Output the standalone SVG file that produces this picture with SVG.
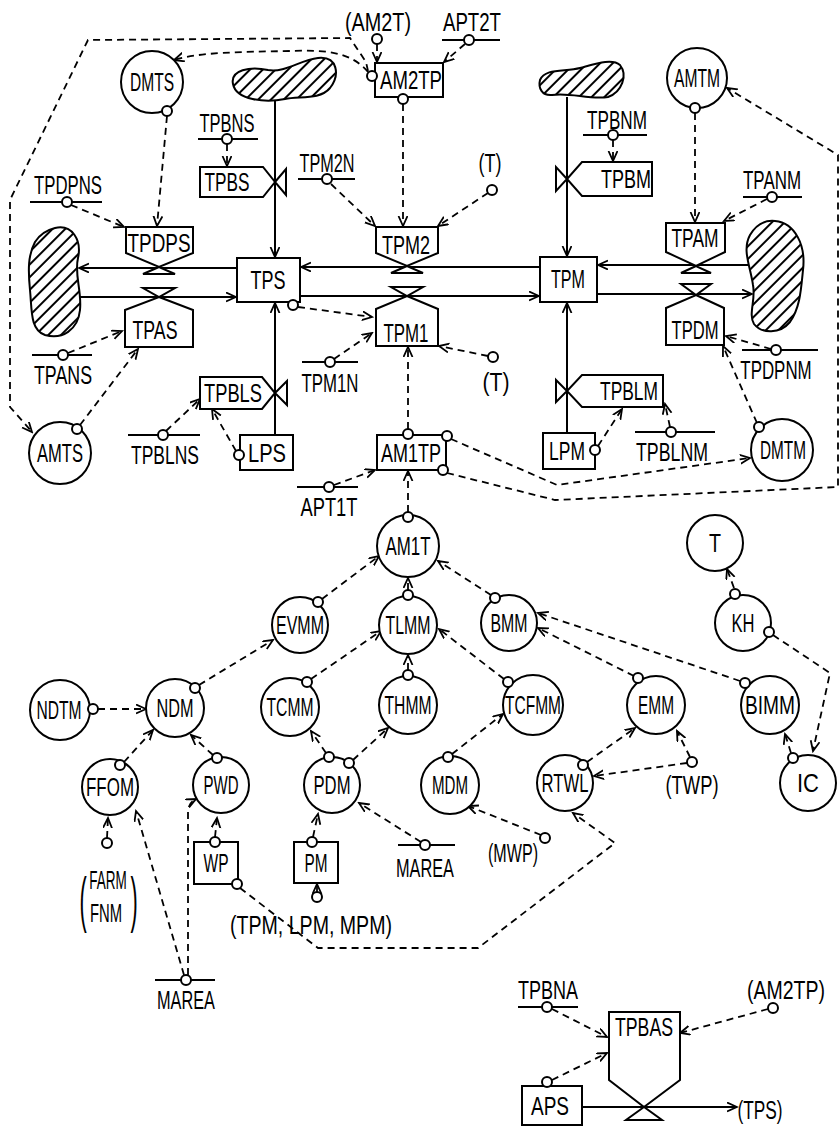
<svg xmlns="http://www.w3.org/2000/svg" width="840" height="1128" viewBox="0 0 840 1128">
<style>
.t{font-family:"Liberation Sans",Arial,sans-serif;font-size:26px;text-anchor:middle;fill:#000}
.n{fill:#fff;stroke:#000;stroke-width:2}
.b{fill:#fff;stroke:#000;stroke-width:2}
.s{fill:#fff;stroke:#000;stroke-width:2}
.k{stroke:#000;stroke-width:1.8;fill:none}
.f{stroke:#000;stroke-width:2;fill:none;marker-end:url(#a)}
.d{stroke:#000;stroke-width:1.8;fill:none;stroke-dasharray:7 5;marker-end:url(#a)}
.c{fill:url(#h);stroke:#000;stroke-width:2}
</style>
<defs>
<marker id="a" markerUnits="userSpaceOnUse" markerWidth="12" markerHeight="12" refX="10" refY="5" orient="auto">
<path d="M0,0.5 L10,5 L0,9.5" fill="none" stroke="#000" stroke-width="1.8" stroke-dasharray="none"/>
</marker>
<pattern id="h" patternUnits="userSpaceOnUse" width="9" height="9" patternTransform="rotate(45)">
<rect width="9" height="9" fill="#fff"/>
<line x1="1" y1="0" x2="1" y2="9" stroke="#000" stroke-width="2"/>
</pattern>
</defs>
<rect width="840" height="1128" fill="#fff"/>

<g id="connectors">
<!-- flows -->
<path class="f" d="M275,100 L275,257"/>
<path class="f" d="M275,435 L275,303"/>
<path class="f" d="M237,268 L79,268"/>
<path class="f" d="M80,297 L236,297"/>
<path class="f" d="M540,267 L301,267"/>
<path class="f" d="M300,296 L539,296"/>
<path class="f" d="M753,265 L598,265"/>
<path class="f" d="M597,294 L752,294"/>
<path class="f" d="M567,97 L567,256"/>
<path class="f" d="M567,433 L567,303"/>
<path class="f" d="M582,1107 L737,1107"/>
<!-- information links -->
<path class="d" d="M167,116 L157,226"/>
<path class="d" d="M71,205 L124,227"/>
<path class="d" d="M227,144 L227,166"/>
<path class="d" d="M377,44 L377,62"/>
<path class="d" d="M465,44 L444,62"/>
<path class="d" d="M403,104 L403,226"/>
<path class="d" d="M331,184 L375,226"/>
<path class="d" d="M488,193 L438,226"/>
<path class="d" d="M368,72 C350,50 320,50 290,51 C240,52 200,52 174,60"/>
<path class="d" d="M368,71 L366,62 L350,38 L88,40 L10,200 L10,407 L32,432"/>
<path class="d" d="M613,140 L613,161"/>
<path class="d" d="M695,113 L695,222"/>
<path class="d" d="M767,199 L724,221"/>
<path class="d" d="M68,353 L122,331"/>
<path class="d" d="M80,425 L138,349"/>
<path class="d" d="M166,431 L200,399"/>
<path class="d" d="M236,451 L212,409"/>
<path class="d" d="M298,307 L372,317"/>
<path class="d" d="M334,359 L372,333"/>
<path class="d" d="M488,356 L439,346"/>
<path class="d" d="M408,429 L408,347"/>
<path class="d" d="M334,485 L375,470"/>
<path class="d" d="M451,439 L557,485 L750,458"/>
<path class="d" d="M447,473 L555,500 L838,487 L838,155 L727,88"/>
<path class="d" d="M771,349 L726,336"/>
<path class="d" d="M757,423 L723,346"/>
<path class="d" d="M598,446 L622,409"/>
<path class="d" d="M670,427 L665,404"/>
<path class="d" d="M408,512 L408,471"/>
<path class="d" d="M322,599 L379,556"/>
<path class="d" d="M408,590 L408,578"/>
<path class="d" d="M491,595 L438,561"/>
<path class="d" d="M311,679 L381,631"/>
<path class="d" d="M408,670 L408,655"/>
<path class="d" d="M504,679 L439,629"/>
<path class="d" d="M634,676 L538,628"/>
<path class="d" d="M740,681 L538,613"/>
<path class="d" d="M199,685 L273,640"/>
<path class="d" d="M98,709 L146,709"/>
<path class="d" d="M124,762 L153,730"/>
<path class="d" d="M213,755 L191,735"/>
<path class="d" d="M326,753 L311,731"/>
<path class="d" d="M353,760 L388,728"/>
<path class="d" d="M452,754 L503,714"/>
<path class="d" d="M587,762 L635,728"/>
<path class="d" d="M687,763 L594,776"/>
<path class="d" d="M690,757 L677,731"/>
<path class="d" d="M734,588 L727,569"/>
<path class="d" d="M773,635 L830,673 L813,751"/>
<path class="d" d="M791,753 L785,734"/>
<path class="d" d="M107,838 L108,818"/>
<path class="d" d="M184,975 L136,811"/>
<path class="d" d="M188,975 L188,812 C188,805 192,801 196,799"/>
<path class="d" d="M215,837 L217,818"/>
<path class="d" d="M240,888 L318,948 L478,948 L615,843 L573,813"/>
<path class="d" d="M313,837 L318,814"/>
<path class="d" d="M421,842 L359,803"/>
<path class="d" d="M541,835 L468,806"/>
<path class="d" d="M317,892 L317,884"/>
<path class="d" d="M552,1009 L607,1037"/>
<path class="d" d="M768,1009 L680,1033"/>
<path class="d" d="M552,1080 L607,1053"/>
</g>

<g id="cloud-ts"><path class="c" d="M233,84 C230,70 250,66 268,70 C285,73 300,60 318,58 C338,56 340,75 330,88 C320,100 300,96 285,99 C265,103 236,100 233,84 Z"/></g>
<g id="cloud-tm"><path class="c" d="M540,80 C545,68 565,72 580,68 C595,64 612,58 620,65 C628,75 622,92 608,97 C590,100 570,92 552,95 C542,96 538,88 540,80 Z"/></g>
<g id="cloud-left"><path class="c" d="M55,228 C72,224 82,240 78,258 C74,275 82,290 80,310 C78,330 62,340 45,335 C30,330 32,310 30,290 C28,270 28,255 35,242 C40,234 47,230 55,228 Z"/></g>
<g id="cloud-right"><path class="c" d="M775,221 C795,223 806,245 803,270 C801,290 800,308 790,322 C780,334 762,334 754,324 C748,314 756,300 753,285 C750,265 742,250 750,235 C756,225 765,220 775,221 Z"/></g>

<g id="TPS"><rect class="b" x="237" y="258" width="63" height="44"/><text class="t" x="268" y="289" textLength="35" lengthAdjust="spacingAndGlyphs">TPS</text><circle class="s" cx="293" cy="305" r="5"/></g>
<g id="TPM"><rect class="b" x="540" y="257" width="57" height="45"/><text class="t" x="568" y="288" textLength="34" lengthAdjust="spacingAndGlyphs">TPM</text></g>

<g id="TPDPS"><polygon class="b" points="126,227 193,227 193,253 159,267 126,253"/><polygon class="b" points="159,267 143,274 175,274"/><text class="t" x="159" y="252" textLength="63" lengthAdjust="spacingAndGlyphs">TPDPS</text></g>
<g id="TPAS"><polygon class="b" points="143,288 175,288 159,297"/><polygon class="b" points="159,297 193,310 193,347 125,347 125,310"/><text class="t" x="155" y="339" textLength="45" lengthAdjust="spacingAndGlyphs">TPAS</text></g>
<g id="TPM2"><polygon class="b" points="376,227 438,227 438,253 407,266 376,253"/><polygon class="b" points="407,266 391,273 423,273"/><text class="t" x="406" y="254" textLength="48" lengthAdjust="spacingAndGlyphs">TPM2</text></g>
<g id="TPM1"><polygon class="b" points="391,287 423,287 407,296"/><polygon class="b" points="407,296 438,309 438,346 376,346 376,309"/><text class="t" x="406" y="342" textLength="45" lengthAdjust="spacingAndGlyphs">TPM1</text></g>
<g id="TPAM"><polygon class="b" points="666,223 725,223 725,252 696,266 666,252"/><polygon class="b" points="696,266 681,273 711,273"/><text class="t" x="695" y="247" textLength="47" lengthAdjust="spacingAndGlyphs">TPAM</text></g>
<g id="TPDM"><polygon class="b" points="681,284 711,284 696,295"/><polygon class="b" points="696,295 724,308 724,345 666,345 666,308"/><text class="t" x="695" y="339" textLength="47" lengthAdjust="spacingAndGlyphs">TPDM</text></g>

<g id="TPBS"><polygon class="b" points="200,167 263,167 275,182 263,197 200,197"/><polygon class="b" points="275,182 286,169 286,195"/><text class="t" x="227" y="191" textLength="45" lengthAdjust="spacingAndGlyphs">TPBS</text></g>
<g id="TPBM"><polygon class="b" points="652,162 582,162 567,179 582,196 652,196"/><polygon class="b" points="567,179 556,167 556,191"/><text class="t" x="626" y="188" textLength="50" lengthAdjust="spacingAndGlyphs">TPBM</text></g>
<g id="TPBLS"><polygon class="b" points="200,377 262,377 275,393 262,409 200,409"/><polygon class="b" points="275,393 287,381 287,405"/><text class="t" x="233" y="402" textLength="58" lengthAdjust="spacingAndGlyphs">TPBLS</text></g>
<g id="TPBLM"><polygon class="b" points="663,375 582,375 567,391 582,407 663,407"/><polygon class="b" points="567,391 556,380 556,402"/><text class="t" x="629" y="400" textLength="58" lengthAdjust="spacingAndGlyphs">TPBLM</text></g>

<g id="LPS"><rect class="b" x="240" y="435" width="53" height="35"/><text class="t" x="267" y="462" textLength="38" lengthAdjust="spacingAndGlyphs">LPS</text><circle class="s" cx="239" cy="455" r="5"/></g>
<g id="LPM"><rect class="b" x="543" y="433" width="52" height="36"/><text class="t" x="567" y="460" textLength="36" lengthAdjust="spacingAndGlyphs">LPM</text><circle class="s" cx="595" cy="450" r="5"/></g>

<g id="AM2TP"><rect class="b" x="375" y="63" width="68" height="34"/><text class="t" x="411" y="89" textLength="62" lengthAdjust="spacingAndGlyphs">AM2TP</text><circle class="s" cx="372" cy="76" r="5"/><circle class="s" cx="403" cy="99" r="5"/></g>
<g id="AM1TP"><rect class="b" x="377" y="435" width="69" height="35"/><text class="t" x="411" y="462" textLength="60" lengthAdjust="spacingAndGlyphs">AM1TP</text><circle class="s" cx="408" cy="434" r="5"/><circle class="s" cx="447" cy="436" r="5"/><circle class="s" cx="443" cy="470" r="5"/></g>

<g id="DMTS"><circle class="n" cx="152" cy="82" r="31"/><text class="t" x="152" y="91" textLength="44" lengthAdjust="spacingAndGlyphs">DMTS</text><circle class="s" cx="167" cy="111" r="5"/></g>
<g id="AMTM"><circle class="n" cx="697" cy="78" r="30"/><text class="t" x="697" y="87" textLength="46" lengthAdjust="spacingAndGlyphs">AMTM</text><circle class="s" cx="695" cy="108" r="5"/></g>
<g id="AMTS"><circle class="n" cx="60" cy="453" r="31"/><text class="t" x="60" y="462" textLength="46" lengthAdjust="spacingAndGlyphs">AMTS</text><circle class="s" cx="77" cy="429" r="5"/></g>
<g id="DMTM"><circle class="n" cx="782" cy="450" r="31"/><text class="t" x="783" y="459" textLength="46" lengthAdjust="spacingAndGlyphs">DMTM</text><circle class="s" cx="759" cy="427" r="5"/></g>

<g id="AM1T"><circle class="n" cx="408" cy="546" r="31"/><text class="t" x="408" y="555" textLength="45" lengthAdjust="spacingAndGlyphs">AM1T</text><circle class="s" cx="408" cy="517" r="5"/></g>
<g id="EVMM"><circle class="n" cx="300" cy="625" r="28"/><text class="t" x="300" y="634" textLength="48" lengthAdjust="spacingAndGlyphs">EVMM</text><circle class="s" cx="318" cy="602" r="5"/></g>
<g id="TLMM"><circle class="n" cx="408" cy="625" r="29"/><text class="t" x="408" y="634" textLength="45" lengthAdjust="spacingAndGlyphs">TLMM</text><circle class="s" cx="408" cy="595" r="5"/></g>
<g id="BMM"><circle class="n" cx="509" cy="623" r="28"/><text class="t" x="509" y="632" textLength="37" lengthAdjust="spacingAndGlyphs">BMM</text><circle class="s" cx="495" cy="598" r="5"/></g>
<g id="T"><circle class="n" cx="715" cy="543" r="28"/><text class="t" x="715" y="552" textLength="12" lengthAdjust="spacingAndGlyphs">T</text></g>
<g id="KH"><circle class="n" cx="743" cy="623" r="28"/><text class="t" x="743" y="632" textLength="23" lengthAdjust="spacingAndGlyphs">KH</text><circle class="s" cx="735" cy="594" r="5"/><circle class="s" cx="769" cy="632" r="5"/></g>
<g id="NDTM"><circle class="n" cx="60" cy="710" r="30"/><text class="t" x="59" y="719" textLength="45" lengthAdjust="spacingAndGlyphs">NDTM</text><circle class="s" cx="93" cy="709" r="5"/></g>
<g id="NDM"><circle class="n" cx="175" cy="708" r="29"/><text class="t" x="175" y="717" textLength="37" lengthAdjust="spacingAndGlyphs">NDM</text><circle class="s" cx="195" cy="688" r="5"/></g>
<g id="TCMM"><circle class="n" cx="290" cy="707" r="29"/><text class="t" x="290" y="716" textLength="47" lengthAdjust="spacingAndGlyphs">TCMM</text><circle class="s" cx="307" cy="682" r="5"/></g>
<g id="THMM"><circle class="n" cx="408" cy="705" r="29"/><text class="t" x="408" y="714" textLength="47" lengthAdjust="spacingAndGlyphs">THMM</text><circle class="s" cx="408" cy="675" r="5"/></g>
<g id="TCFMM"><circle class="n" cx="533" cy="705" r="30"/><text class="t" x="533" y="714" textLength="56" lengthAdjust="spacingAndGlyphs">TCFMM</text><circle class="s" cx="508" cy="682" r="5"/></g>
<g id="EMM"><circle class="n" cx="656" cy="705" r="29"/><text class="t" x="656" y="714" textLength="36" lengthAdjust="spacingAndGlyphs">EMM</text><circle class="s" cx="638" cy="678" r="5"/></g>
<g id="BIMM"><circle class="n" cx="770" cy="705" r="29"/><text class="t" x="770" y="714" textLength="50" lengthAdjust="spacingAndGlyphs">BIMM</text><circle class="s" cx="745" cy="683" r="5"/></g>
<g id="FFOM"><circle class="n" cx="110" cy="787" r="28"/><text class="t" x="110" y="796" textLength="48" lengthAdjust="spacingAndGlyphs">FFOM</text><circle class="s" cx="120" cy="765" r="5"/></g>
<g id="PWD"><circle class="n" cx="221" cy="785" r="28"/><text class="t" x="221" y="794" textLength="35" lengthAdjust="spacingAndGlyphs">PWD</text><circle class="s" cx="217" cy="758" r="5"/></g>
<g id="PDM"><circle class="n" cx="332" cy="785" r="28"/><text class="t" x="332" y="794" textLength="37" lengthAdjust="spacingAndGlyphs">PDM</text><circle class="s" cx="329" cy="757" r="5"/><circle class="s" cx="349" cy="763" r="5"/></g>
<g id="MDM"><circle class="n" cx="450" cy="785" r="29"/><text class="t" x="450" y="794" textLength="36" lengthAdjust="spacingAndGlyphs">MDM</text><circle class="s" cx="448" cy="757" r="5"/></g>
<g id="RTWL"><circle class="n" cx="565" cy="783" r="28"/><text class="t" x="565" y="792" textLength="47" lengthAdjust="spacingAndGlyphs">RTWL</text><circle class="s" cx="583" cy="765" r="5"/></g>
<g id="IC"><circle class="n" cx="808" cy="783" r="28"/><text class="t" x="808" y="792" textLength="22" lengthAdjust="spacingAndGlyphs">IC</text><circle class="s" cx="793" cy="758" r="5"/></g>

<g id="WP"><rect class="b" x="194" y="842" width="44" height="42"/><text class="t" x="216" y="872" textLength="25" lengthAdjust="spacingAndGlyphs">WP</text><circle class="s" cx="215" cy="842" r="5"/><circle class="s" cx="237" cy="884" r="5"/></g>
<g id="PM"><rect class="b" x="294" y="842" width="44" height="41"/><text class="t" x="316" y="872" textLength="23" lengthAdjust="spacingAndGlyphs">PM</text><circle class="s" cx="312" cy="842" r="5"/></g>
<g id="TPBAS"><polygon class="b" points="609,1012 680,1012 680,1080 644,1107 609,1080"/><polygon class="b" points="644,1107 626,1120 662,1120"/><text class="t" x="644" y="1036" textLength="58" lengthAdjust="spacingAndGlyphs">TPBAS</text></g>
<g id="APS"><rect class="b" x="522" y="1086" width="60" height="39"/><text class="t" x="550" y="1115" textLength="38" lengthAdjust="spacingAndGlyphs">APS</text><circle class="s" cx="547" cy="1082" r="5"/></g>

<!-- constants and auxiliary inputs -->
<g id="TPDPNS"><line class="k" x1="30" y1="202" x2="102" y2="202"/><circle class="s" cx="67" cy="202" r="5"/><text class="t" x="68" y="194" textLength="68" lengthAdjust="spacingAndGlyphs">TPDPNS</text></g>
<g id="TPBNS"><line class="k" x1="198" y1="139" x2="258" y2="139"/><circle class="s" cx="227" cy="139" r="5"/><text class="t" x="227" y="132" textLength="55" lengthAdjust="spacingAndGlyphs">TPBNS</text></g>
<g id="AM2T-ref"><circle class="s" cx="377" cy="39" r="5"/><text class="t" x="378" y="31" textLength="66" lengthAdjust="spacingAndGlyphs">(AM2T)</text></g>
<g id="APT2T"><line class="k" x1="442" y1="40" x2="500" y2="40"/><circle class="s" cx="469" cy="40" r="5"/><text class="t" x="472" y="31" textLength="58" lengthAdjust="spacingAndGlyphs">APT2T</text></g>
<g id="TPM2N"><line class="k" x1="298" y1="179" x2="355" y2="179"/><circle class="s" cx="327" cy="179" r="5"/><text class="t" x="327" y="172" textLength="55" lengthAdjust="spacingAndGlyphs">TPM2N</text></g>
<g id="T-ref1"><circle class="s" cx="492" cy="190" r="5"/><text class="t" x="490" y="172" textLength="23" lengthAdjust="spacingAndGlyphs">(T)</text></g>
<g id="TPBNM"><line class="k" x1="583" y1="135" x2="647" y2="135"/><circle class="s" cx="613" cy="135" r="5"/><text class="t" x="617" y="129" textLength="60" lengthAdjust="spacingAndGlyphs">TPBNM</text></g>
<g id="TPANM"><line class="k" x1="743" y1="197" x2="802" y2="197"/><circle class="s" cx="772" cy="197" r="5"/><text class="t" x="772" y="189" textLength="58" lengthAdjust="spacingAndGlyphs">TPANM</text></g>
<g id="TPANS"><line class="k" x1="32" y1="355" x2="92" y2="355"/><circle class="s" cx="63" cy="355" r="5"/><text class="t" x="63" y="384" textLength="58" lengthAdjust="spacingAndGlyphs">TPANS</text></g>
<g id="TPBLNS"><line class="k" x1="128" y1="435" x2="200" y2="435"/><circle class="s" cx="163" cy="435" r="5"/><text class="t" x="165" y="464" textLength="68" lengthAdjust="spacingAndGlyphs">TPBLNS</text></g>
<g id="TPM1N"><line class="k" x1="302" y1="362" x2="358" y2="362"/><circle class="s" cx="330" cy="362" r="5"/><text class="t" x="330" y="392" textLength="57" lengthAdjust="spacingAndGlyphs">TPM1N</text></g>
<g id="T-ref2"><circle class="s" cx="493" cy="357" r="5"/><text class="t" x="496" y="391" textLength="27" lengthAdjust="spacingAndGlyphs">(T)</text></g>
<g id="APT1T"><line class="k" x1="297" y1="487" x2="358" y2="487"/><circle class="s" cx="329" cy="487" r="5"/><text class="t" x="329" y="516" textLength="57" lengthAdjust="spacingAndGlyphs">APT1T</text></g>
<g id="TPDPNM"><line class="k" x1="742" y1="350" x2="818" y2="350"/><circle class="s" cx="776" cy="350" r="5"/><text class="t" transform="translate(776,379) scale(0.65,1)">TPDPNM</text></g>
<g id="TPBLNM"><line class="k" x1="635" y1="432" x2="715" y2="432"/><circle class="s" cx="671" cy="432" r="5"/><text class="t" x="672" y="461" textLength="72" lengthAdjust="spacingAndGlyphs">TPBLNM</text></g>
<g id="TWP"><circle class="s" cx="692" cy="762" r="5"/><text class="t" x="692" y="794" textLength="53" lengthAdjust="spacingAndGlyphs">(TWP)</text></g>
<g id="MAREA-1"><line class="k" x1="398" y1="845" x2="455" y2="845"/><circle class="s" cx="425" cy="845" r="5"/><text class="t" x="425" y="877" textLength="58" lengthAdjust="spacingAndGlyphs">MAREA</text></g>
<g id="MWP"><circle class="s" cx="545" cy="838" r="5"/><text class="t" x="513" y="862" textLength="50" lengthAdjust="spacingAndGlyphs">(MWP)</text></g>
<g id="FARM-FNM"><circle class="s" cx="107" cy="843" r="5"/><text class="t" transform="translate(108,889) scale(0.52,1)">FARM</text><text class="t" transform="translate(106,922) scale(0.57,1)">FNM</text><text class="t" transform="translate(83,920) scale(0.35,1)" style="font-size:62px">(</text><text class="t" transform="translate(134,920) scale(0.35,1)" style="font-size:62px">)</text></g>
<g id="MAREA-2"><line class="k" x1="155" y1="980" x2="215" y2="980"/><circle class="s" cx="186" cy="980" r="5"/><text class="t" x="186" y="1009" textLength="58" lengthAdjust="spacingAndGlyphs">MAREA</text></g>
<g id="TPM-LPM-MPM"><circle class="s" cx="317" cy="897" r="5"/><text class="t" x="311" y="934" textLength="162" lengthAdjust="spacingAndGlyphs">(TPM, LPM, MPM)</text></g>
<g id="TPBNA"><line class="k" x1="518" y1="1007" x2="578" y2="1007"/><circle class="s" cx="547" cy="1007" r="5"/><text class="t" x="548" y="999" textLength="60" lengthAdjust="spacingAndGlyphs">TPBNA</text></g>
<g id="AM2TP-ref"><circle class="s" cx="773" cy="1008" r="5"/><text class="t" transform="translate(786,999) scale(0.75,1)">(AM2TP)</text></g>
<g id="TPS-ref"><text class="t" x="760" y="1119" textLength="45" lengthAdjust="spacingAndGlyphs">(TPS)</text></g>
</svg>
